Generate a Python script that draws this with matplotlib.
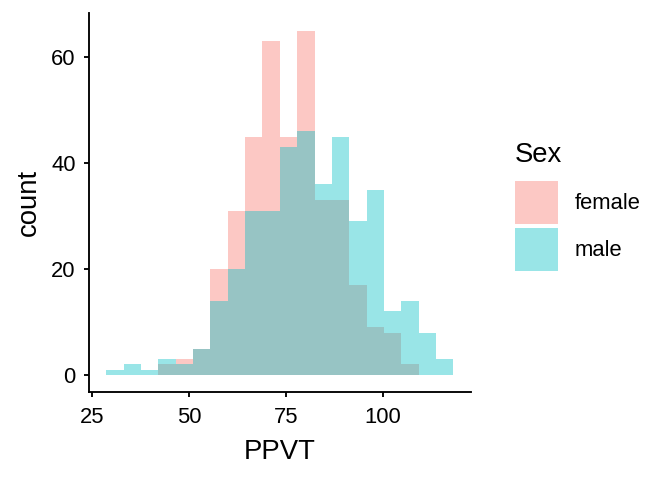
"""Overlapping histograms of PPVT score by sex (ggplot-like style)."""

import matplotlib
matplotlib.use("Agg")
import matplotlib.pyplot as plt
import numpy as np

plt.rcParams["font.family"] = ["Liberation Sans", "DejaVu Sans"]

# bin layout
bin_start = 28.7
bin_width = 4.47
n_bins = 20

female_counts = [0, 0, 0, 2, 3, 5, 20, 31, 45, 63, 45, 65, 33, 33, 17, 9, 8, 2, 0, 0]
male_counts = [1, 2, 1, 3, 2, 5, 14, 20, 31, 31, 43, 46, 36, 45, 29, 35, 12, 14, 8, 3]

x_ticks = [25, 50, 75, 100]
y_ticks = [0, 20, 40, 60]

female_color = "#F8766D"
male_color = "#00BFC4"


def main() -> None:
    edges = bin_start + bin_width * np.arange(n_bins + 1)
    centers = (edges[:-1] + edges[1:]) / 2

    fig = plt.figure(figsize=(7, 5), dpi=96)
    ax = fig.add_axes([0.1324, 0.1827, 0.568, 0.7896])

    ax.hist(centers, bins=edges, weights=female_counts, color=female_color,
            alpha=0.4, label="female")
    ax.hist(centers, bins=edges, weights=male_counts, color=male_color,
            alpha=0.4, label="male")

    span = edges[-1] - edges[0]
    ax.set_xlim(edges[0] - 0.05 * span, edges[-1] + 0.05 * span)
    ymax = max(max(female_counts), max(male_counts))
    ax.set_ylim(-0.05 * ymax, 1.05 * ymax)
    ax.set_xticks(x_ticks)
    ax.set_yticks(y_ticks)

    for side in ("top", "right"):
        ax.spines[side].set_visible(False)
    for side in ("left", "bottom"):
        ax.spines[side].set_linewidth(1.4)
    ax.tick_params(length=4, width=1.4, labelsize=16.5, pad=6,
                   colors="black")
    ax.tick_params(axis="x", pad=7)

    ax.set_xlabel("PPVT", fontsize=20.6, labelpad=8)
    ax.set_ylabel("count", fontsize=20.6, labelpad=7)

    # legend title drawn separately so the gap above the keys matches
    fig.text(515 / 672, 1 - 161.7 / 480, "Sex", fontsize=20.6,
             ha="left", va="baseline")
    ax.legend(loc="upper left", bbox_to_anchor=(515 / 672, 1 - 180.7 / 480),
              bbox_transform=fig.transFigure, frameon=False, fontsize=16.5,
              handlelength=1.96, handleheight=2.62, handletextpad=0.75,
              labelspacing=0.2, borderaxespad=0, borderpad=0)

    fig.savefig("out.png", dpi=96)


if __name__ == "__main__":
    main()
